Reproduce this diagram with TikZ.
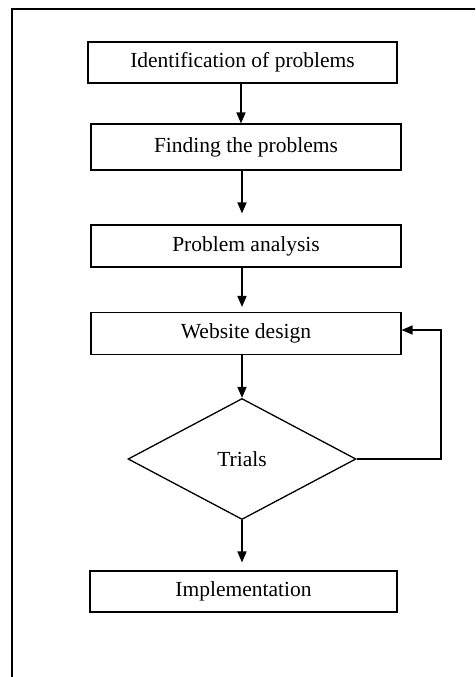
\documentclass[tikz,border=0pt]{standalone}
\usepackage{fontspec}
\setmainfont{Liberation Serif}
\usetikzlibrary{shapes.geometric,arrows.meta}
\begin{document}
\begin{tikzpicture}[x=1pt,y=-1pt,
  box/.style={draw,line width=1.1pt,minimum width=310pt,minimum height=42pt,inner sep=0pt,font=\fontsize{21.5}{24}\selectfont},
  dec/.style={draw,diamond,line width=1.3pt,minimum width=228pt,minimum height=121pt,aspect=1.88,inner sep=0pt,font=\fontsize{21.5}{24}\selectfont},
  arr/.style={line width=1.6pt,-{Triangle[width=9pt,length=11pt]}}]
\useasboundingbox (0,0) rectangle (475,677);
\begin{scope}
\clip (0,0) rectangle (475,677);
\draw[line width=1.8pt] (490,9) -- (12,9) -- (12,700);
\end{scope}
\node[box,minimum width=309pt,minimum height=41pt] (b1) at (242.5,62.5) {Identification of problems};
\node[box,minimum height=46pt] (b2) at (246,147) {Finding the problems};
\node[box] (b3) at (246,246) {Problem analysis};
\node[box] (b4) at (246,333.5) {Website design};
\node[dec] (d) at (242,459) {Trials};
\node[box,minimum width=307pt,minimum height=41pt] (b5) at (243.5,591.5) {Implementation};
\draw[arr] (b1.south -| 241,0) -- (b2.north -| 241,0);
\draw[arr,shorten >=11pt] (b2.south -| 242,0) -- (b3.north -| 242,0);
\draw[arr,shorten >=5pt] (b3.south -| 242,0) -- (b4.north -| 242,0);
\draw[arr] (b4.south -| d.north) -- (d.north);
\draw[arr,shorten >=8pt] (d.south) -- (b5.north -| d.south);
\coordinate (c) at (441,459);
\draw[arr] (d.east) -- (c) -- (c |- 0,330) -- (b4.east |- 0,330);
\end{tikzpicture}
\end{document}
